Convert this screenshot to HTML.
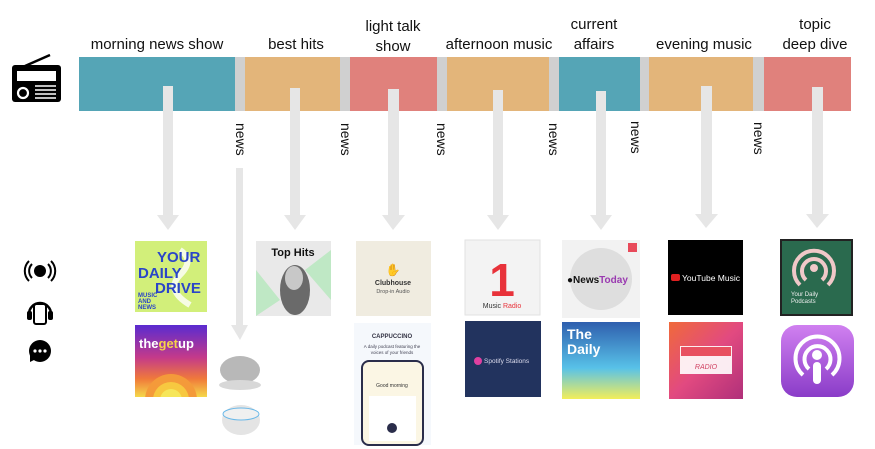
<!DOCTYPE html>
<html><head><meta charset="utf-8"><style>
html,body{margin:0;padding:0;background:#fff;width:875px;height:449px;overflow:hidden}
svg{display:block}
text{font-family:"Liberation Sans",sans-serif}
</style></head><body>
<svg width="875" height="449" viewBox="0 0 875 449" xmlns="http://www.w3.org/2000/svg">
<defs>
<linearGradient id="gu" x1="0" y1="0" x2="0" y2="1"><stop offset="0" stop-color="#5a2bd0"/><stop offset="0.45" stop-color="#c43a8a"/><stop offset="0.75" stop-color="#f07a3a"/><stop offset="1" stop-color="#f5d84a"/></linearGradient>
<linearGradient id="td" x1="0" y1="0" x2="0" y2="1"><stop offset="0" stop-color="#2f5fae"/><stop offset="0.6" stop-color="#58c2e8"/><stop offset="1" stop-color="#f2ee5a"/></linearGradient>
<linearGradient id="sc" x1="0" y1="0" x2="1" y2="1"><stop offset="0" stop-color="#f06a3a"/><stop offset="0.5" stop-color="#e24a80"/><stop offset="1" stop-color="#b0307a"/></linearGradient>
<linearGradient id="ap" x1="0" y1="0" x2="0" y2="1"><stop offset="0" stop-color="#d080f0"/><stop offset="1" stop-color="#8a3cc8"/></linearGradient>
<clipPath id="gucl"><rect x="135" y="325" width="72" height="72"/></clipPath>
</defs>
<!-- radio -->
<line x1="25" y1="66" x2="50" y2="55" stroke="#000" stroke-width="2.5"/>
<rect x="12" y="65" width="49" height="37" rx="3" fill="#000"/>
<rect x="17" y="71" width="39" height="10" fill="#fff"/>
<circle cx="23" cy="93" r="5" fill="none" stroke="#fff" stroke-width="2.2"/>
<g stroke="#fff" stroke-width="1.6"><line x1="35" y1="86" x2="56" y2="86"/><line x1="35" y1="90" x2="56" y2="90"/><line x1="35" y1="94" x2="56" y2="94"/><line x1="35" y1="98" x2="56" y2="98"/></g>
<!-- bar -->
<rect x="79" y="57" width="156" height="54" fill="#55a5b6"/>
<rect x="235" y="57" width="10" height="54" fill="#d0d0d0"/>
<rect x="245" y="57" width="95" height="54" fill="#e3b57a"/>
<rect x="340" y="57" width="10" height="54" fill="#d0d0d0"/>
<rect x="350" y="57" width="87" height="54" fill="#e0817c"/>
<rect x="437" y="57" width="10" height="54" fill="#d0d0d0"/>
<rect x="447" y="57" width="102" height="54" fill="#e3b57a"/>
<rect x="549" y="57" width="10" height="54" fill="#d0d0d0"/>
<rect x="559" y="57" width="81" height="54" fill="#55a5b6"/>
<rect x="640" y="57" width="9" height="54" fill="#d0d0d0"/>
<rect x="649" y="57" width="104" height="54" fill="#e3b57a"/>
<rect x="753" y="57" width="11" height="54" fill="#d0d0d0"/>
<rect x="764" y="57" width="87" height="54" fill="#e0817c"/>
<!-- labels -->
<g font-size="15" fill="#111" text-anchor="middle">
<text x="157" y="49">morning news show</text>
<text x="296" y="49">best hits</text>
<text x="393" y="31">light talk</text>
<text x="393" y="51">show</text>
<text x="499" y="49">afternoon music</text>
<text x="594" y="29">current</text>
<text x="594" y="49">affairs</text>
<text x="704" y="49">evening music</text>
<text x="815" y="29">topic</text>
<text x="815" y="49">deep dive</text>
</g>
<g font-size="14" fill="#111">
<text transform="translate(236,123) rotate(90)">news</text>
<text transform="translate(341,123) rotate(90)">news</text>
<text transform="translate(437,123) rotate(90)">news</text>
<text transform="translate(549,123) rotate(90)">news</text>
<text transform="translate(631,121) rotate(90)">news</text>
<text transform="translate(754,122) rotate(90)">news</text>
</g>
<!-- arrows -->
<g fill="#e6e6e6">
<rect x="163" y="86" width="10" height="130"/><polygon points="157,215 179,215 168,230"/>
<rect x="290" y="88" width="10" height="128"/><polygon points="284,215 306,215 295,230"/>
<rect x="388" y="89" width="11" height="127"/><polygon points="382,215 405,215 393,230"/>
<rect x="493" y="90" width="10" height="126"/><polygon points="487,215 509,215 498,230"/>
<rect x="596" y="91" width="10" height="125"/><polygon points="590,215 612,215 601,230"/>
<rect x="701" y="86" width="11" height="129"/><polygon points="695,214 718,214 706,228"/>
<rect x="812" y="87" width="11" height="128"/><polygon points="806,214 829,214 817,228"/>
<rect x="236" y="168" width="7" height="158"/><polygon points="231,325 248,325 240,340"/>
</g>
<!-- side icons -->
<g fill="#000">
<circle cx="40" cy="271" r="6"/>
<path d="M32 264 a10 10 0 0 0 0 14 M48 264 a10 10 0 0 1 0 14" stroke="#000" stroke-width="2" fill="none"/>
<path d="M29 261 a14 14 0 0 0 0 20 M51 261 a14 14 0 0 1 0 20" stroke="#000" stroke-width="2" fill="none"/>
<path d="M29 314 a11 11 0 0 1 22 0" stroke="#000" stroke-width="2.5" fill="none"/>
<rect x="34" y="304" width="12" height="20" rx="2" fill="none" stroke="#000" stroke-width="2"/>
<rect x="27" y="311" width="5" height="9" rx="2"/><rect x="48" y="311" width="5" height="9" rx="2"/>
<circle cx="40" cy="351" r="11"/><polygon points="30,355 30,362 36,359"/>
</g>
<g fill="#fff"><circle cx="35" cy="351" r="1.6"/><circle cx="40" cy="351" r="1.6"/><circle cx="45" cy="351" r="1.6"/></g>
<!-- your daily drive -->
<rect x="135" y="241" width="72" height="71" fill="#d2ef7a"/>
<path d="M180 250 q15 10 0 25 q-15 15 10 30" stroke="#fff" stroke-width="6" fill="none" opacity="0.8"/>
<g fill="#2a45c8" font-weight="bold"><text x="157" y="262" font-size="15">YOUR</text><text x="138" y="278" font-size="15">DAILY</text><text x="155" y="293" font-size="15">DRIVE</text><text x="138" y="297" font-size="6">MUSIC</text><text x="138" y="303" font-size="6">AND</text><text x="138" y="309" font-size="6">NEWS</text></g>
<!-- the get up -->
<rect x="135" y="325" width="72" height="72" fill="url(#gu)"/>
<g clip-path="url(#gucl)"><circle cx="171" cy="400" r="26" fill="#f49a3a"/><circle cx="171" cy="400" r="18" fill="#f7c840"/><circle cx="171" cy="400" r="11" fill="#f6e65a"/></g>
<text x="139" y="348" font-size="13" font-weight="bold" fill="#fff">the<tspan fill="#f6d34a">get</tspan>up</text>
<!-- top hits -->
<rect x="256" y="241" width="75" height="75" fill="#e9e9e9"/>
<polygon points="256,270 280,300 256,316" fill="#bfe8c5"/><polygon points="305,270 331,250 331,300" fill="#bfe8c5"/>
<ellipse cx="295" cy="290" rx="15" ry="25" fill="#6a6a6a"/>
<ellipse cx="294" cy="278" rx="9" ry="12" fill="#c8c8c8"/>
<text x="293" y="256" font-size="11" font-weight="bold" text-anchor="middle" fill="#111">Top Hits</text>
<!-- clubhouse -->
<rect x="356" y="241" width="75" height="75" fill="#f0ece0"/>
<text x="393" y="274" font-size="12" text-anchor="middle" fill="#e8b040">✋</text>
<text x="393" y="285" font-size="7" font-weight="bold" text-anchor="middle" fill="#333">Clubhouse</text>
<text x="393" y="293" font-size="5.5" text-anchor="middle" fill="#555">Drop-in Audio</text>
<!-- cappuccino -->
<rect x="354" y="323" width="77" height="122" fill="#f5f8fc"/>
<text x="392" y="338" font-size="6" font-weight="bold" text-anchor="middle" fill="#334">CAPPUCCINO</text>
<text x="392" y="348" font-size="4.5" text-anchor="middle" fill="#445">A daily podcast featuring the</text>
<text x="392" y="354" font-size="4.5" text-anchor="middle" fill="#445">voices of your friends</text>
<rect x="362" y="361" width="61" height="84" rx="7" fill="#fbf6e4" stroke="#2a2d4a" stroke-width="2"/>
<text x="392" y="387" font-size="5" text-anchor="middle" fill="#333">Good morning</text>
<rect x="369" y="396" width="47" height="45" fill="#fff"/>
<circle cx="392" cy="428" r="5" fill="#2a2d4a"/>
<!-- google home & echo -->
<ellipse cx="240" cy="370" rx="20" ry="14" fill="#b8b8b8"/>
<ellipse cx="240" cy="385" rx="21" ry="5" fill="#d8d8d8"/>
<ellipse cx="241" cy="420" rx="19" ry="15" fill="#e4e4e4"/>
<ellipse cx="241" cy="414" rx="18" ry="6" fill="#f0f0f0" stroke="#6ab8e8" stroke-width="1"/>
<!-- apple music -->
<rect x="465" y="240" width="75" height="75" fill="#f3f3f3" stroke="#e2e2e2"/>
<text x="502" y="296" font-size="46" font-weight="bold" text-anchor="middle" fill="#e8323a">1</text>
<text x="502" y="308" font-size="7" text-anchor="middle" fill="#333">Music <tspan fill="#e8323a">Radio</tspan></text>
<!-- spotify stations -->
<rect x="465" y="321" width="76" height="76" fill="#22335e"/>
<circle cx="478" cy="361" r="4" fill="#e040a0"/>
<text x="484" y="363" font-size="6.5" fill="#dde">Spotify Stations</text>
<!-- news today -->
<rect x="562" y="240" width="78" height="78" fill="#f2f2f2"/>
<circle cx="601" cy="279" r="31" fill="#dedede"/>
<rect x="628" y="243" width="9" height="9" fill="#e84a5a"/>
<text x="567" y="283" font-size="10" font-weight="bold" fill="#111">●News<tspan fill="#9a3ab0">Today</tspan></text>
<!-- the daily -->
<rect x="562" y="322" width="78" height="77" fill="url(#td)"/>
<text x="567" y="339" font-size="14" font-weight="bold" fill="#fff" font-family="Liberation Serif,serif">The</text>
<text x="567" y="354" font-size="14" font-weight="bold" fill="#fff" font-family="Liberation Serif,serif">Daily</text>
<!-- youtube -->
<rect x="668" y="240" width="75" height="75" fill="#000"/>
<rect x="671" y="274" width="9" height="7" rx="2" fill="#e02020"/>
<text x="682" y="281" font-size="8" fill="#fff" textLength="58" lengthAdjust="spacingAndGlyphs">YouTube Music</text>
<!-- soundcloud -->
<rect x="669" y="322" width="74" height="77" fill="url(#sc)"/>
<rect x="680" y="346" width="52" height="28" fill="#fff" opacity="0.9"/>
<rect x="681" y="347" width="50" height="9" fill="#e85060"/>
<text x="706" y="369" font-size="7" font-style="italic" text-anchor="middle" fill="#d04060">RADIO</text>
<!-- your daily podcasts -->
<rect x="781" y="240" width="71" height="75" fill="#2a6a4e" stroke="#222" stroke-width="2"/>
<path d="M800 285 a20 20 0 1 1 28 0 M806 280 a12 12 0 1 1 16 0" stroke="#f0c8c8" stroke-width="4" fill="none"/>
<circle cx="814" cy="268" r="4" fill="#f0c8c8"/>
<text x="791" y="296" font-size="6" fill="#eee">Your Daily</text><text x="791" y="303" font-size="6" fill="#eee">Podcasts</text>
<!-- apple podcasts -->
<rect x="781" y="325" width="73" height="72" rx="16" fill="url(#ap)"/>
<path d="M803 375 a22 22 0 1 1 29 0 M809 369 a13 13 0 1 1 17 0" stroke="#fff" stroke-width="4" fill="none"/>
<circle cx="817" cy="355" r="5" fill="#fff"/><rect x="813" y="362" width="8" height="22" rx="4" fill="#fff"/>
</svg>
</body></html>
